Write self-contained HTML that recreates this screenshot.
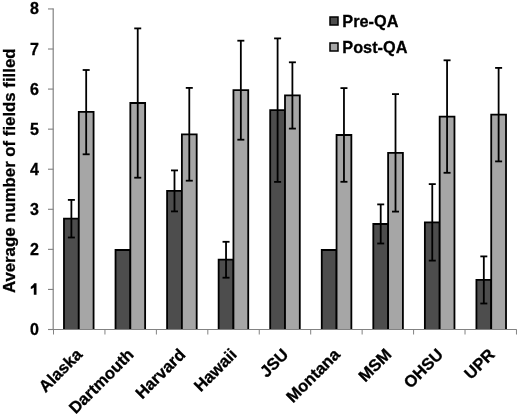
<!DOCTYPE html><html><head><meta charset="utf-8"><style>html,body{margin:0;padding:0;background:#fff;}svg{display:block;filter:grayscale(1);}text{font-family:"Liberation Sans",sans-serif;font-weight:bold;fill:#000;stroke:#000;stroke-width:0.3px;}</style></head><body>
<svg width="520" height="417" viewBox="0 0 520 417">
<rect x="0" y="0" width="520" height="417" fill="#fff"/>
<rect x="63.98" y="218.70" width="14.80" height="110.30" fill="#4d4d4d"/>
<path d="M63.98 329.00V218.70H78.78V329.00" fill="none" stroke="#000" stroke-width="1.8"/>
<rect x="78.78" y="111.90" width="14.80" height="217.10" fill="#a6a6a6"/>
<path d="M78.78 329.00V111.90H93.58V329.00" fill="none" stroke="#000" stroke-width="1.8"/>
<rect x="115.53" y="250.00" width="14.80" height="79.00" fill="#4d4d4d"/>
<path d="M115.53 329.00V250.00H130.33V329.00" fill="none" stroke="#000" stroke-width="1.8"/>
<rect x="130.33" y="103.00" width="14.80" height="226.00" fill="#a6a6a6"/>
<path d="M130.33 329.00V103.00H145.13V329.00" fill="none" stroke="#000" stroke-width="1.8"/>
<rect x="167.09" y="190.90" width="14.80" height="138.10" fill="#4d4d4d"/>
<path d="M167.09 329.00V190.90H181.89V329.00" fill="none" stroke="#000" stroke-width="1.8"/>
<rect x="181.89" y="134.30" width="14.80" height="194.70" fill="#a6a6a6"/>
<path d="M181.89 329.00V134.30H196.69V329.00" fill="none" stroke="#000" stroke-width="1.8"/>
<rect x="218.64" y="259.70" width="14.80" height="69.30" fill="#4d4d4d"/>
<path d="M218.64 329.00V259.70H233.44V329.00" fill="none" stroke="#000" stroke-width="1.8"/>
<rect x="233.44" y="90.20" width="14.80" height="238.80" fill="#a6a6a6"/>
<path d="M233.44 329.00V90.20H248.24V329.00" fill="none" stroke="#000" stroke-width="1.8"/>
<rect x="270.20" y="110.20" width="14.80" height="218.80" fill="#4d4d4d"/>
<path d="M270.20 329.00V110.20H285.00V329.00" fill="none" stroke="#000" stroke-width="1.8"/>
<rect x="285.00" y="95.40" width="14.80" height="233.60" fill="#a6a6a6"/>
<path d="M285.00 329.00V95.40H299.80V329.00" fill="none" stroke="#000" stroke-width="1.8"/>
<rect x="321.76" y="250.00" width="14.80" height="79.00" fill="#4d4d4d"/>
<path d="M321.76 329.00V250.00H336.56V329.00" fill="none" stroke="#000" stroke-width="1.8"/>
<rect x="336.56" y="135.00" width="14.80" height="194.00" fill="#a6a6a6"/>
<path d="M336.56 329.00V135.00H351.36V329.00" fill="none" stroke="#000" stroke-width="1.8"/>
<rect x="373.31" y="224.00" width="14.80" height="105.00" fill="#4d4d4d"/>
<path d="M373.31 329.00V224.00H388.11V329.00" fill="none" stroke="#000" stroke-width="1.8"/>
<rect x="388.11" y="152.80" width="14.80" height="176.20" fill="#a6a6a6"/>
<path d="M388.11 329.00V152.80H402.91V329.00" fill="none" stroke="#000" stroke-width="1.8"/>
<rect x="424.87" y="222.40" width="14.80" height="106.60" fill="#4d4d4d"/>
<path d="M424.87 329.00V222.40H439.67V329.00" fill="none" stroke="#000" stroke-width="1.8"/>
<rect x="439.67" y="116.60" width="14.80" height="212.40" fill="#a6a6a6"/>
<path d="M439.67 329.00V116.60H454.47V329.00" fill="none" stroke="#000" stroke-width="1.8"/>
<rect x="476.42" y="279.90" width="14.80" height="49.10" fill="#4d4d4d"/>
<path d="M476.42 329.00V279.90H491.22V329.00" fill="none" stroke="#000" stroke-width="1.8"/>
<rect x="491.22" y="114.60" width="14.80" height="214.40" fill="#a6a6a6"/>
<path d="M491.22 329.00V114.60H506.02V329.00" fill="none" stroke="#000" stroke-width="1.8"/>
<line x1="71.38" y1="199.90" x2="71.38" y2="237.50" stroke="#000" stroke-width="1.8"/>
<line x1="67.88" y1="199.90" x2="74.88" y2="199.90" stroke="#000" stroke-width="1.8"/>
<line x1="67.88" y1="237.50" x2="74.88" y2="237.50" stroke="#000" stroke-width="1.8"/>
<line x1="86.18" y1="70.00" x2="86.18" y2="154.30" stroke="#000" stroke-width="1.8"/>
<line x1="82.68" y1="70.00" x2="89.68" y2="70.00" stroke="#000" stroke-width="1.8"/>
<line x1="82.68" y1="154.30" x2="89.68" y2="154.30" stroke="#000" stroke-width="1.8"/>
<line x1="137.73" y1="28.40" x2="137.73" y2="177.70" stroke="#000" stroke-width="1.8"/>
<line x1="134.23" y1="28.40" x2="141.23" y2="28.40" stroke="#000" stroke-width="1.8"/>
<line x1="134.23" y1="177.70" x2="141.23" y2="177.70" stroke="#000" stroke-width="1.8"/>
<line x1="174.49" y1="170.40" x2="174.49" y2="211.40" stroke="#000" stroke-width="1.8"/>
<line x1="170.99" y1="170.40" x2="177.99" y2="170.40" stroke="#000" stroke-width="1.8"/>
<line x1="170.99" y1="211.40" x2="177.99" y2="211.40" stroke="#000" stroke-width="1.8"/>
<line x1="189.29" y1="87.90" x2="189.29" y2="180.70" stroke="#000" stroke-width="1.8"/>
<line x1="185.79" y1="87.90" x2="192.79" y2="87.90" stroke="#000" stroke-width="1.8"/>
<line x1="185.79" y1="180.70" x2="192.79" y2="180.70" stroke="#000" stroke-width="1.8"/>
<line x1="226.04" y1="241.80" x2="226.04" y2="277.70" stroke="#000" stroke-width="1.8"/>
<line x1="222.54" y1="241.80" x2="229.54" y2="241.80" stroke="#000" stroke-width="1.8"/>
<line x1="222.54" y1="277.70" x2="229.54" y2="277.70" stroke="#000" stroke-width="1.8"/>
<line x1="240.84" y1="40.70" x2="240.84" y2="139.70" stroke="#000" stroke-width="1.8"/>
<line x1="237.34" y1="40.70" x2="244.34" y2="40.70" stroke="#000" stroke-width="1.8"/>
<line x1="237.34" y1="139.70" x2="244.34" y2="139.70" stroke="#000" stroke-width="1.8"/>
<line x1="277.60" y1="38.40" x2="277.60" y2="181.90" stroke="#000" stroke-width="1.8"/>
<line x1="274.10" y1="38.40" x2="281.10" y2="38.40" stroke="#000" stroke-width="1.8"/>
<line x1="274.10" y1="181.90" x2="281.10" y2="181.90" stroke="#000" stroke-width="1.8"/>
<line x1="292.40" y1="62.30" x2="292.40" y2="128.60" stroke="#000" stroke-width="1.8"/>
<line x1="288.90" y1="62.30" x2="295.90" y2="62.30" stroke="#000" stroke-width="1.8"/>
<line x1="288.90" y1="128.60" x2="295.90" y2="128.60" stroke="#000" stroke-width="1.8"/>
<line x1="343.96" y1="88.10" x2="343.96" y2="181.80" stroke="#000" stroke-width="1.8"/>
<line x1="340.46" y1="88.10" x2="347.46" y2="88.10" stroke="#000" stroke-width="1.8"/>
<line x1="340.46" y1="181.80" x2="347.46" y2="181.80" stroke="#000" stroke-width="1.8"/>
<line x1="380.71" y1="204.40" x2="380.71" y2="243.50" stroke="#000" stroke-width="1.8"/>
<line x1="377.21" y1="204.40" x2="384.21" y2="204.40" stroke="#000" stroke-width="1.8"/>
<line x1="377.21" y1="243.50" x2="384.21" y2="243.50" stroke="#000" stroke-width="1.8"/>
<line x1="395.51" y1="94.10" x2="395.51" y2="211.60" stroke="#000" stroke-width="1.8"/>
<line x1="392.01" y1="94.10" x2="399.01" y2="94.10" stroke="#000" stroke-width="1.8"/>
<line x1="392.01" y1="211.60" x2="399.01" y2="211.60" stroke="#000" stroke-width="1.8"/>
<line x1="432.27" y1="184.10" x2="432.27" y2="260.60" stroke="#000" stroke-width="1.8"/>
<line x1="428.77" y1="184.10" x2="435.77" y2="184.10" stroke="#000" stroke-width="1.8"/>
<line x1="428.77" y1="260.60" x2="435.77" y2="260.60" stroke="#000" stroke-width="1.8"/>
<line x1="447.07" y1="60.30" x2="447.07" y2="172.80" stroke="#000" stroke-width="1.8"/>
<line x1="443.57" y1="60.30" x2="450.57" y2="60.30" stroke="#000" stroke-width="1.8"/>
<line x1="443.57" y1="172.80" x2="450.57" y2="172.80" stroke="#000" stroke-width="1.8"/>
<line x1="483.82" y1="256.40" x2="483.82" y2="303.50" stroke="#000" stroke-width="1.8"/>
<line x1="480.32" y1="256.40" x2="487.32" y2="256.40" stroke="#000" stroke-width="1.8"/>
<line x1="480.32" y1="303.50" x2="487.32" y2="303.50" stroke="#000" stroke-width="1.8"/>
<line x1="498.62" y1="67.90" x2="498.62" y2="161.40" stroke="#000" stroke-width="1.8"/>
<line x1="495.12" y1="67.90" x2="502.12" y2="67.90" stroke="#000" stroke-width="1.8"/>
<line x1="495.12" y1="161.40" x2="502.12" y2="161.40" stroke="#000" stroke-width="1.8"/>
<rect x="0" y="329.5" width="520" height="10" fill="#fff"/>
<line x1="53.2" y1="8.44" x2="53.2" y2="330.0" stroke="#828282" stroke-width="1.2"/>
<line x1="48.0" y1="329.5" x2="516.7" y2="329.5" stroke="#828282" stroke-width="1"/>
<line x1="48.0" y1="329.5" x2="53.5" y2="329.5" stroke="#828282" stroke-width="1.1"/>
<text x="38.8" y="335.0" font-size="16" text-anchor="end">0</text>
<line x1="48.0" y1="289.43" x2="53.5" y2="289.43" stroke="#828282" stroke-width="1.1"/>
<path d="M36.5 294.63 L36.5 283.23 L34.2 283.23 Q33.5 285.23 30.8 286.63 L30.8 289.03 Q32.6 288.43 33.8 287.43 L33.8 294.63 Z" fill="#000"/>
<line x1="48.0" y1="249.36" x2="53.5" y2="249.36" stroke="#828282" stroke-width="1.1"/>
<text x="38.8" y="254.9" font-size="16" text-anchor="end">2</text>
<line x1="48.0" y1="209.29" x2="53.5" y2="209.29" stroke="#828282" stroke-width="1.1"/>
<text x="38.8" y="214.8" font-size="16" text-anchor="end">3</text>
<line x1="48.0" y1="169.22" x2="53.5" y2="169.22" stroke="#828282" stroke-width="1.1"/>
<text x="38.8" y="174.7" font-size="16" text-anchor="end">4</text>
<line x1="48.0" y1="129.15" x2="53.5" y2="129.15" stroke="#828282" stroke-width="1.1"/>
<text x="38.8" y="134.7" font-size="16" text-anchor="end">5</text>
<line x1="48.0" y1="89.07999999999998" x2="53.5" y2="89.07999999999998" stroke="#828282" stroke-width="1.1"/>
<text x="38.8" y="94.6" font-size="16" text-anchor="end">6</text>
<line x1="48.0" y1="49.00999999999999" x2="53.5" y2="49.00999999999999" stroke="#828282" stroke-width="1.1"/>
<text x="38.8" y="54.5" font-size="16" text-anchor="end">7</text>
<line x1="48.0" y1="8.939999999999998" x2="53.5" y2="8.939999999999998" stroke="#828282" stroke-width="1.1"/>
<text x="38.8" y="14.4" font-size="16" text-anchor="end">8</text>
<line x1="53.5" y1="329.5" x2="53.5" y2="334.5" stroke="#828282" stroke-width="1"/>
<line x1="104.94" y1="329.5" x2="104.94" y2="334.5" stroke="#828282" stroke-width="1"/>
<line x1="156.38" y1="329.5" x2="156.38" y2="334.5" stroke="#828282" stroke-width="1"/>
<line x1="207.82" y1="329.5" x2="207.82" y2="334.5" stroke="#828282" stroke-width="1"/>
<line x1="259.26" y1="329.5" x2="259.26" y2="334.5" stroke="#828282" stroke-width="1"/>
<line x1="310.7" y1="329.5" x2="310.7" y2="334.5" stroke="#828282" stroke-width="1"/>
<line x1="362.14" y1="329.5" x2="362.14" y2="334.5" stroke="#828282" stroke-width="1"/>
<line x1="413.58" y1="329.5" x2="413.58" y2="334.5" stroke="#828282" stroke-width="1"/>
<line x1="465.02" y1="329.5" x2="465.02" y2="334.5" stroke="#828282" stroke-width="1"/>
<line x1="516.46" y1="329.5" x2="516.46" y2="334.5" stroke="#828282" stroke-width="1"/>
<text x="83.2" y="355.6" font-size="16.5" text-anchor="end" transform="rotate(-45 83.2 355.6)">Alaska</text>
<text x="134.7" y="355.6" font-size="16.5" text-anchor="end" transform="rotate(-45 134.7 355.6)">Dartmouth</text>
<text x="186.3" y="355.6" font-size="16.5" text-anchor="end" transform="rotate(-45 186.3 355.6)">Harvard</text>
<text x="237.8" y="355.6" font-size="16.5" text-anchor="end" transform="rotate(-45 237.8 355.6)">Hawaii</text>
<text x="289.4" y="355.6" font-size="16.5" text-anchor="end" transform="rotate(-45 289.4 355.6)">JSU</text>
<text x="341.0" y="355.6" font-size="16.5" text-anchor="end" transform="rotate(-45 341.0 355.6)">Montana</text>
<text x="392.5" y="355.6" font-size="16.5" text-anchor="end" transform="rotate(-45 392.5 355.6)">MSM</text>
<text x="444.1" y="355.6" font-size="16.5" text-anchor="end" transform="rotate(-45 444.1 355.6)">OHSU</text>
<text x="495.6" y="355.6" font-size="16.5" text-anchor="end" transform="rotate(-45 495.6 355.6)">UPR</text>
<text x="15.3" y="170.8" font-size="16.8" text-anchor="middle" transform="rotate(-90 15.3 170.8)">Average number of fields filled</text>
<rect x="330" y="17" width="8" height="8" fill="#4d4d4d" stroke="#000" stroke-width="1.5"/>
<rect x="330" y="43" width="8" height="8" fill="#a6a6a6" stroke="#000" stroke-width="1.5"/>
<text x="342.3" y="26.6" font-size="16.3">Pre-QA</text>
<text x="342.3" y="52.6" font-size="16.3">Post-QA</text>
</svg></body></html>
